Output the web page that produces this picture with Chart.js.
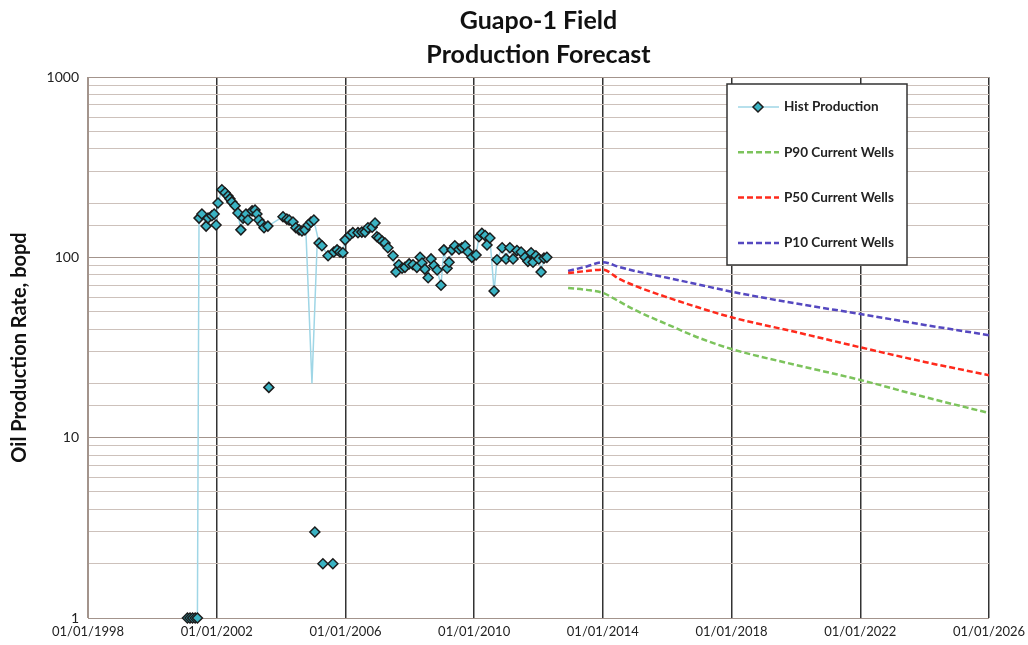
<!DOCTYPE html>
<html>
<head>
<meta charset="utf-8">
<title>Guapo-1 Field Production Forecast</title>
<script src="https://cdn.jsdelivr.net/npm/chart.js@4.4.1/dist/chart.umd.min.js"></script>
<style>
  html, body { margin: 0; padding: 0; background: #fff; }
  #chart { display: block; }
</style>
</head>
<body>
<canvas id="chart" width="1028" height="645"></canvas>
<script>
// historical production (decimal years, bopd)
const histYears = [
  2001.09, 2001.17, 2001.25, 2001.33, 2001.40,
  2001.45, 2001.54, 2001.67, 2001.73, 2001.85, 2001.92, 2001.98,
  2002.04, 2002.16, 2002.26, 2002.35, 2002.41, 2002.47, 2002.57, 2002.66, 2002.75, 2002.82, 2002.91, 2002.97,
  2003.10, 2003.19, 2003.25, 2003.31, 2003.41, 2003.47, 2003.59,
  2004.06, 2004.18, 2004.25, 2004.37, 2004.46, 2004.56, 2004.65, 2004.74, 2004.84, 2004.93, 2005.02,
  2005.18, 2005.27, 2005.46, 2005.64, 2005.74, 2005.83, 2005.92, 2005.99,
  2006.14, 2006.23, 2006.39, 2006.51, 2006.61, 2006.70, 2006.83, 2006.92, 2006.98,
  2007.04, 2007.14, 2007.23, 2007.32, 2007.48, 2007.57, 2007.66, 2007.76, 2007.85, 2007.98,
  2008.10, 2008.22, 2008.32, 2008.38, 2008.47, 2008.57, 2008.66, 2008.75, 2008.85, 2008.97,
  2009.06, 2009.16, 2009.22, 2009.31, 2009.40, 2009.53, 2009.62, 2009.72, 2009.81, 2009.93,
  2010.06, 2010.15, 2010.24, 2010.34, 2010.40, 2010.49, 2010.62, 2010.71, 2010.87, 2010.99,
  2011.11, 2011.21, 2011.33, 2011.46, 2011.58, 2011.67, 2011.77, 2011.83, 2011.92,
  2012.01, 2012.08, 2012.17, 2012.26
];
const histRates = [
  1, 1, 1, 1, 1,
  165, 174, 149, 165, 170, 174, 151,
  200, 237, 228, 219, 211, 203, 193, 176, 142, 165, 174, 161,
  181, 183, 174, 161, 153, 146, 149,
  168, 163, 161, 157, 146, 142, 140, 142, 151, 157, 161,
  120, 116, 102, 107, 110, 107, 106, 125,
  133, 137, 137, 138, 138, 146, 147, 155, 130,
  128, 123, 120, 113, 102, 83, 91, 87, 88, 92,
  91, 88, 100, 93, 86, 77, 98, 90, 85, 70,
  110, 87, 94, 110, 116, 111, 113, 116, 107, 100,
  103, 130, 136, 132, 117, 128, 65, 97, 113, 98,
  113, 98, 109, 107, 100, 95, 106, 94, 102,
  98, 83, 99, 100
];

// shut-in dip drawn by the hist line only
const dipYears = [2004.77, 2004.96, 2005.12];
const dipRates = [142, 20, 117];

// low isolated readings
const lowYears = [2003.62, 2005.05, 2005.30, 2005.61];
const lowRates = [19, 3, 2, 2];

// forecasts
const forecastYears = [2012.92, 2013.5, 2014.0, 2014.5, 2015, 2016, 2017, 2018, 2020, 2022, 2024, 2026];
const p90Rates = [67.6, 66, 63.5, 57, 51, 42.5, 35.7, 31, 25.3, 20.9, 16.8, 13.7];
const p50Rates = [81.8, 84, 85.5, 76, 69.5, 60, 52.5, 46.5, 38.5, 31.7, 26.3, 22.2];
const p10Rates = [84, 89, 94, 88.5, 84, 77, 70.5, 64.5, 55.5, 48.5, 42.2, 37];

const xTickYears = [1998, 2002, 2006, 2010, 2014, 2018, 2022, 2026];
const yTickLabels = ["1", "10", "100", "1000"];

const FONT = "Lato, 'Open Sans', sans-serif";
const axisGrey = "#a3948c";
const markerFill = "#3ab3c3";
const markerEdge = "#1c1c1c";
const histLine = "#9fd6e6";

function pts(xs, ys) {
  return xs.map((x, i) => ({ x, y: ys[i] }));
}

function drawDiamond(ctx, x, y, r, fill, stroke, lw) {
  ctx.beginPath();
  ctx.moveTo(x, y - r);
  ctx.lineTo(x + r, y);
  ctx.lineTo(x, y + r);
  ctx.lineTo(x - r, y);
  ctx.closePath();
  ctx.fillStyle = fill;
  ctx.fill();
  ctx.lineWidth = lw;
  ctx.strokeStyle = stroke;
  ctx.stroke();
}

// boxed legend inside the plot, upper right
const boxLegend = {
  id: "boxLegend",
  afterDatasetsDraw(chart) {
    const { ctx, chartArea } = chart;
    const x0 = chartArea.right - 262;
    const y0 = chartArea.top + 7;
    const w = 180, h = 181;
    ctx.save();
    ctx.fillStyle = "#fff";
    ctx.fillRect(x0, y0, w, h);
    ctx.strokeStyle = "#333";
    ctx.lineWidth = 1.5;
    ctx.strokeRect(x0, y0, w, h);

    const items = chart.data.datasets.filter((d) => !d.hideInLegend);
    items.forEach((ds, i) => {
      const y = y0 + 23 + i * 45.3;
      ctx.setLineDash(ds.borderDash || []);
      ctx.strokeStyle = ds.borderColor;
      ctx.lineWidth = ds.borderWidth;
      ctx.beginPath();
      ctx.moveTo(x0 + 11, y);
      ctx.lineTo(x0 + 52, y);
      ctx.stroke();
      ctx.setLineDash([]);
      if (ds.pointRadius) {
        drawDiamond(ctx, x0 + 31, y, ds.pointRadius, ds.pointBackgroundColor, ds.pointBorderColor, ds.pointBorderWidth);
      }
      ctx.fillStyle = "#222";
      ctx.font = `bold 13.5px ${FONT}`;
      ctx.textBaseline = "middle";
      ctx.textAlign = "left";
      ctx.fillText(ds.label, x0 + 57, y);
    });
    ctx.restore();
  },
};

const markerStyle = {
  pointStyle: "rectRot",
  pointRadius: 5,
  pointHoverRadius: 5,
  pointBackgroundColor: markerFill,
  pointBorderColor: markerEdge,
  pointBorderWidth: 1.5,
};

const forecastStyle = (color) => ({
  borderColor: color,
  borderWidth: 2.5,
  borderDash: [6, 3],
  pointRadius: 0,
  fill: false,
  cubicInterpolationMode: "monotone",
});

new Chart(document.getElementById("chart"), {
  type: "line",
  data: {
    datasets: [
      {
        label: "Hist Production",
        data: pts(histYears, histRates),
        borderColor: histLine,
        borderWidth: 1.5,
        clip: false,
        ...markerStyle,
      },
      {
        label: "P90 Current Wells",
        data: pts(forecastYears, p90Rates),
        ...forecastStyle("#7cc35c"),
      },
      {
        label: "P50 Current Wells",
        data: pts(forecastYears, p50Rates),
        ...forecastStyle("#ff2a1c"),
      },
      {
        label: "P10 Current Wells",
        data: pts(forecastYears, p10Rates),
        ...forecastStyle("#5548c0"),
      },
      {
        label: "low readings",
        hideInLegend: true,
        data: pts(lowYears, lowRates),
        showLine: false,
        clip: false,
        ...markerStyle,
      },
      {
        label: "shut-in dip",
        hideInLegend: true,
        data: pts(dipYears, dipRates),
        borderColor: histLine,
        borderWidth: 1.5,
        pointRadius: 0,
      },
    ],
  },
  options: {
    responsive: false,
    animation: false,
    layout: { padding: { left: 0, right: 39, top: 0, bottom: 0 } },
    plugins: {
      legend: { display: false },
      tooltip: { enabled: false },
      title: {
        display: true,
        fullSize: false,
        text: ["Guapo-1 Field", "Production Forecast"],
        color: "#111",
        font: { family: FONT, size: 25, weight: "bold", lineHeight: 1.36 },
        padding: { top: 4, bottom: 5 },
      },
    },
    scales: {
      x: {
        type: "linear",
        min: 1998,
        max: 2026,
        afterBuildTicks: (s) => {
          s.ticks = xTickYears.map((v) => ({ value: v }));
        },
        afterFit: (s) => {
          s.height = 27;
          s.paddingLeft = 0;
          s.paddingRight = 0;
        },
        ticks: {
          autoSkip: false,
          maxRotation: 0,
          padding: 6,
          color: "#222",
          font: { family: FONT, size: 13 },
          callback: (v) => "01/01/" + v,
        },
        grid: {
          drawTicks: false,
          lineWidth: 1.5,
          color: (c) => (c.tick && c.tick.value === 1998 ? axisGrey : "#333"),
        },
        border: { display: false },
      },
      y: {
        type: "logarithmic",
        min: 1,
        max: 1000,
        afterFit: (s) => {
          s.width = 88;
        },
        ticks: {
          autoSkip: false,
          padding: 9,
          color: "#222",
          font: { family: FONT, size: 14 },
          callback: (v) => (yTickLabels.includes(String(v)) ? String(v) : ""),
        },
        grid: {
          drawTicks: false,
          lineWidth: 1,
          color: (c) => (c.tick && yTickLabels.includes(String(c.tick.value)) ? axisGrey : "#cdc1bb"),
        },
        border: { display: true, color: axisGrey, width: 1 },
        title: {
          display: true,
          text: "Oil Production Rate, bopd",
          color: "#111",
          font: { family: FONT, size: 20, weight: "bold", lineHeight: 1.2 },
          padding: { top: 8, bottom: 0 },
        },
      },
    },
  },
  plugins: [boxLegend],
});
</script>
</body>
</html>
